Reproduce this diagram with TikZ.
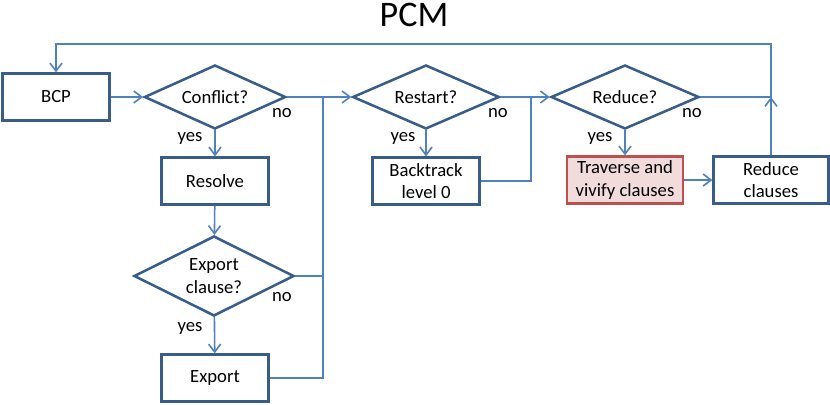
\documentclass[tikz,border=0pt]{standalone}
\usepackage{fontspec}
\setmainfont{Carlito}
\usetikzlibrary{shapes.geometric,arrows.meta}
\definecolor{boxblue}{HTML}{385D8A}
\definecolor{lineblue}{HTML}{4F81BD}
\definecolor{hotfill}{HTML}{F2DCDB}
\definecolor{hotdraw}{HTML}{C0504D}
\begin{document}
\begin{tikzpicture}[x=0.75pt, y=-0.75pt,
  font=\fontsize{14}{17}\selectfont,
  box/.style={draw=boxblue, line width=1.9pt, minimum width=80pt, minimum height=35pt, align=center, inner sep=2pt},
  test/.style={diamond, aspect=2, draw=boxblue, line width=1.9pt, inner sep=0pt, align=center},
  conn/.style={draw=lineblue, line width=1.2pt},
  arr/.style={conn, -{Straight Barb[length=6pt,width=9pt]}},
  lbl/.style={inner sep=0pt}]
\useasboundingbox (0,0) rectangle (830,404);

% Title
\node[font=\fontsize{27}{30}\selectfont] (title) at (414,15) {PCM};

% Main row
\node[box] (bcp) at (56,97) {BCP};
\node[test, minimum width=106pt, minimum height=48pt] (conflict) at (215,97) {Conflict?};
\node[test, minimum width=110pt, minimum height=48pt] (restart) at (426,97) {Restart?};
\node[test, minimum width=111pt, minimum height=48pt] (reduce) at (625,97) {Reduce?};

% Conflict branch
\node[box] (resolve) at (215,181) {Resolve};
\node[test, minimum width=120pt, minimum height=60pt] (expcl) at (214,276) {Export\\clause?};
\node[box] (export) at (215,378) {Export};

% Restart / reduce branches
\node[box] (backtrack) at (426,181) {Backtrack\\level 0};
\node[box, fill=hotfill, draw=hotdraw, minimum width=87pt] (traverse) at (625,180) {Traverse and\\vivify clauses};
\node[box, minimum width=86pt] (redcl) at (771,180) {Reduce\\clauses};

% Branch labels
\node[lbl] (no1) at (282,113) {no};
\node[lbl] (yes1) at (190,138) {yes};
\node[lbl] (no2) at (498,113) {no};
\node[lbl] (yes2) at (403,138) {yes};
\node[lbl] (no3) at (692,113) {no};
\node[lbl] (yes3) at (600,138) {yes};
\node[lbl] (no4) at (282,297) {no};
\node[lbl] (yes4) at (190,328) {yes};

% Junctions
\coordinate (j1) at (323,97);
\coordinate (j2) at (531,97);
\coordinate (top) at (771,44);

% Connectors
\draw[arr] (bcp) -- (conflict);
\draw[arr] (conflict) -- (restart);
\draw[arr] (restart) -- (reduce);
\draw[arr] (conflict) -- (resolve);
\draw[arr] (resolve) -- (expcl);
\draw[arr] (expcl) -- (export);
\draw[conn] (expcl.east) -- (expcl.east -| j1);
\draw[conn] (export.east) -| (j1);
\draw[arr] (restart) -- (backtrack);
\draw[conn] (backtrack.east) -| (j2);
\draw[arr] (reduce) -- (traverse);
\draw[arr] (traverse) -- (redcl);
\draw[arr] (redcl.north) -- (redcl.north |- reduce.east);
\draw[arr] (reduce.east) -| (top) -| (bcp.north);

\end{tikzpicture}
\end{document}
